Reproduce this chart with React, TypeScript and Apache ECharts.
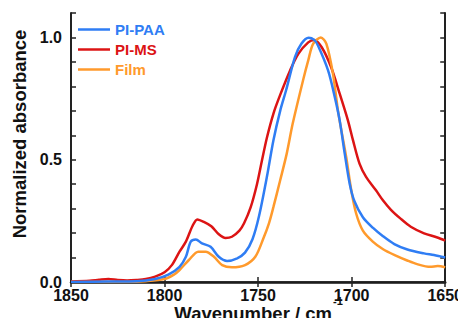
import React, { useEffect, useRef } from "react";
import * as echarts from "echarts";

const seriesNames = ["PI-PAA", "PI-MS", "Film"];
const seriesColors = ["#2f7df4", "#dc1414", "#ff9a2c"];

const xTicks = [1850, 1800, 1750, 1700, 1650];
const yTickLabels = ["0.0", "0.5", "1.0"];
const xTitle = "Wavenumber / cm";
const xTitleSup = "-1";
const yTitle = "Normalized absorbance";

const paaWn = [1850, 1830, 1815, 1805, 1798, 1792, 1788.6, 1786, 1783.3, 1780, 1775.4, 1771, 1766.6, 1761.2, 1757, 1753, 1749.5, 1745.3, 1741.8, 1738.2, 1735, 1730.3, 1726.8, 1723, 1720, 1718, 1712.6, 1709, 1706.4, 1703.7, 1701, 1698.5, 1694, 1688.7, 1683.4, 1677.2, 1670.2, 1661.3, 1656, 1650];
const paaAbs = [0, 0.002, 0.003, 0.012, 0.03, 0.062, 0.103, 0.165, 0.174, 0.158, 0.144, 0.103, 0.086, 0.097, 0.12, 0.175, 0.27, 0.43, 0.58, 0.70, 0.785, 0.92, 0.975, 0.999, 0.99, 0.967, 0.865, 0.756, 0.661, 0.525, 0.40, 0.33, 0.265, 0.222, 0.188, 0.155, 0.133, 0.117, 0.11, 0.1];

const msWn = [1850, 1840, 1835, 1830, 1825, 1820, 1815, 1810, 1805, 1800, 1796, 1792, 1788.6, 1785, 1782.5, 1779, 1775, 1771, 1767.4, 1764, 1760, 1757.5, 1754, 1750.6, 1748, 1745.3, 1741.8, 1738.2, 1732.9, 1728.5, 1723.2, 1720, 1716, 1711, 1706.4, 1702, 1699.3, 1695.8, 1692.3, 1687, 1683.4, 1679, 1674, 1668.4, 1661.3, 1654.2, 1650];
const msAbs = [0.002, 0.005, 0.009, 0.012, 0.008, 0.006, 0.008, 0.012, 0.022, 0.04, 0.07, 0.124, 0.165, 0.23, 0.256, 0.246, 0.228, 0.195, 0.18, 0.185, 0.21, 0.24, 0.305, 0.40, 0.495, 0.59, 0.689, 0.765, 0.865, 0.933, 0.98, 0.99, 0.96, 0.879, 0.77, 0.661, 0.58, 0.484, 0.43, 0.375, 0.335, 0.295, 0.26, 0.226, 0.199, 0.182, 0.169];

const filmWn = [1850, 1820, 1810, 1800, 1795, 1792, 1787, 1782, 1778, 1773.6, 1769.2, 1764, 1757, 1751.5, 1747.1, 1744.2, 1741.8, 1738.2, 1734.7, 1731.5, 1726, 1723.2, 1720.6, 1716.5, 1713.5, 1710, 1707.3, 1705.5, 1702.9, 1700.2, 1697.6, 1694, 1688.7, 1683.4, 1677, 1670, 1665, 1658, 1654, 1650];
const filmAbs = [0, 0, 0.003, 0.012, 0.03, 0.049, 0.09, 0.124, 0.124, 0.103, 0.069, 0.06, 0.069, 0.103, 0.18, 0.24, 0.307, 0.416, 0.525, 0.648, 0.824, 0.906, 0.974, 1.0, 0.974, 0.852, 0.70, 0.62, 0.51, 0.375, 0.28, 0.21, 0.165, 0.135, 0.11, 0.087, 0.073, 0.062, 0.065, 0.06];

const seriesWn = [paaWn, msWn, filmWn];
const seriesAbs = [paaAbs, msAbs, filmAbs];

const FONT = "'Liberation Sans', Arial, sans-serif";

export default function App() {
  const ref = useRef<HTMLDivElement>(null);
  useEffect(() => {
    if (!ref.current) return;
    const chart = echarts.init(ref.current, undefined, { renderer: "svg" });
    const tickStyle = { color: "#222", width: 1.5 };
    chart.setOption({
      animation: false,
      backgroundColor: "#ffffff",
      grid: { left: 71, right: 18, top: 13, bottom: 44 },
      legend: {
        orient: "vertical",
        left: 73,
        top: 17,
        icon: "rect",
        itemWidth: 32,
        itemHeight: 2.5,
        itemGap: 5,
        textStyle: { fontFamily: FONT, fontWeight: "bold", fontSize: 15 },
        data: seriesNames.map((n, i) => ({ name: n, textStyle: { color: seriesColors[i] } })),
      },
      graphic: [
        {
          type: "text",
          x: 19,
          y: 134,
          rotation: Math.PI / 2,
          style: {
            text: yTitle,
            fontFamily: FONT,
            fontWeight: "bold",
            fontSize: 18.5,
            fill: "#111",
            align: "center",
            verticalAlign: "middle",
          },
        },
        {
          type: "text",
          x: 332,
          y: 313,
          style: {
            text: xTitle,
            fontFamily: FONT,
            fontWeight: "bold",
            fontSize: 18.5,
            fill: "#111",
            align: "right",
            verticalAlign: "middle",
          },
        },
        {
          type: "text",
          x: 333,
          y: 301,
          style: {
            text: xTitleSup,
            fontFamily: FONT,
            fontWeight: "bold",
            fontSize: 11,
            fill: "#111",
            align: "left",
            verticalAlign: "middle",
          },
        },
      ],
      xAxis: [
        {
          type: "value",
          min: 1650,
          max: 1850,
          interval: 50,
          inverse: true,
          position: "bottom",
          axisLine: { show: true, lineStyle: { color: "#111", width: 2.5 } },
          axisTick: { show: true, inside: true, length: 5, lineStyle: tickStyle },
          splitLine: { show: false },
          axisLabel: {
            margin: 5,
            fontFamily: FONT,
            fontWeight: "bold",
            fontSize: 16,
            color: "#111",
            formatter: (v: number) => (xTicks.includes(v) ? String(v) : ""),
          },
        },
        {
          type: "value",
          min: 1650,
          max: 1850,
          interval: 50,
          inverse: true,
          position: "top",
          axisLine: { show: true, lineStyle: { color: "#222", width: 1.5 } },
          axisTick: { show: true, inside: true, length: 5, lineStyle: tickStyle },
          axisLabel: { show: false },
          splitLine: { show: false },
        },
      ],
      yAxis: [
        {
          type: "value",
          min: 0,
          max: 1.1,
          interval: 0.1,
          position: "left",
          axisLine: { show: true, lineStyle: { color: "#222", width: 2 } },
          axisTick: { show: true, inside: true, length: 5, lineStyle: tickStyle },
          splitLine: { show: false },
          axisLabel: {
            margin: 9,
            fontFamily: FONT,
            fontWeight: "bold",
            fontSize: 16,
            color: "#111",
            formatter: (v: number) => {
              const s = v.toFixed(1);
              return yTickLabels.includes(s) ? s : "";
            },
          },
        },
        {
          type: "value",
          min: 0,
          max: 1.1,
          interval: 0.1,
          position: "right",
          axisLine: { show: true, lineStyle: { color: "#222", width: 2 } },
          axisTick: { show: true, inside: true, length: 5, lineStyle: tickStyle },
          axisLabel: { show: false },
          splitLine: { show: false },
        },
      ],
      series: seriesNames.map((n, i) => ({
        name: n,
        type: "line",
        xAxisIndex: 0,
        yAxisIndex: 0,
        symbol: "none",
        smooth: 0.3,
        color: seriesColors[i],
        lineStyle: { color: seriesColors[i], width: 2.5 },
        data: seriesWn[i].map((w, j) => [w, seriesAbs[i][j]]),
        z: i === 0 ? 4 : 3,
      })),
    });
    return () => chart.dispose();
  }, []);
  return <div ref={ref} style={{ width: 466, height: 326, margin: -8 }} />;
}
